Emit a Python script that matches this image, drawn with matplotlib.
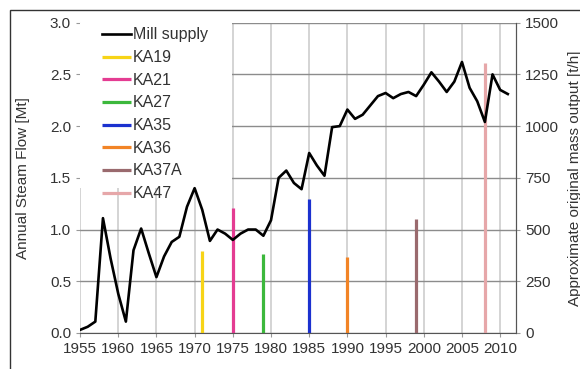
import matplotlib
matplotlib.use("Agg")
import matplotlib.pyplot as plt
from matplotlib.patches import Rectangle
import numpy as np

plt.rcParams['font.family'] = ['Liberation Sans', 'DejaVu Sans']
plt.rcParams['font.size'] = 11

# annual mill supply, Mt
years = list(range(1955, 2012))
mill_supply = [0.03, 0.06, 0.11, 1.11, 0.72, 0.38, 0.11, 0.80, 1.01, 0.77,
               0.54, 0.74, 0.88, 0.93, 1.22, 1.40, 1.19, 0.89, 1.00, 0.96,
               0.90, 0.96, 1.00, 1.00, 0.94, 1.09, 1.50, 1.57, 1.45, 1.39,
               1.74, 1.62, 1.52, 1.99, 2.00, 2.16, 2.07, 2.11, 2.20, 2.29,
               2.32, 2.27, 2.31, 2.33, 2.29, 2.40, 2.52, 2.43, 2.33, 2.43,
               2.62, 2.37, 2.24, 2.04, 2.50, 2.35, 2.31]

# individual units: name, commissioning year, steam flow (Mt)
units = ['KA19', 'KA21', 'KA27', 'KA35', 'KA36', 'KA37A', 'KA47']
unit_years = [1971, 1975, 1979, 1985, 1990, 1999, 2008]
unit_flow = [0.79, 1.21, 0.76, 1.30, 0.73, 1.10, 2.61]
unit_colors = ['#f7d417', '#e43c92', '#3cb83c', '#1b31cf', '#f28426',
               '#9a6a6e', '#e6a7a9']

fig = plt.figure(figsize=(5.8, 3.69), dpi=100)
ax = fig.add_axes([0.138, 0.0976, 0.752, 0.841])

ax.set_axisbelow(True)
ax.grid(axis='x', color='#d4d4d4', linewidth=1.4)
ax.grid(axis='y', color='#8c8c8c', linewidth=1.0)

# white panel behind the legend
ax.add_patch(Rectangle((0, 0.467), 0.349, 0.533, transform=ax.transAxes,
                       facecolor='white', edgecolor='none', zorder=1))

ax.plot(years, mill_supply, color='black', linewidth=1.9, zorder=3,
        label='Mill supply')
for name, yr, flow, c in zip(units, unit_years, unit_flow, unit_colors):
    ax.plot([yr, yr], [0, flow], color=c, linewidth=2.3, zorder=2,
            solid_capstyle='butt', label=name)

ax.set_xlim(1955, 2012.1)
ax.set_ylim(0, 3.0)
ax.set_xticks(range(1955, 2011, 5))
ax.set_yticks(np.arange(0, 3.01, 0.5))
ax.yaxis.set_major_formatter(plt.FormatStrFormatter('%.1f'))
ax.set_ylabel('Annual Steam Flow [Mt]', color='#333333', labelpad=14)

for side in ['top', 'left']:
    ax.spines[side].set_visible(False)
ax.spines['bottom'].set_color('#555555')
ax.spines['right'].set_color('#555555')
ax.tick_params(colors='#999999', labelcolor='#333333', length=3, width=0.8,
               labelsize=11)

ax2 = ax.twinx()
ax2.set_ylim(0, 1500)
ax2.set_yticks(range(0, 1501, 250))
for side in ['top', 'left', 'bottom']:
    ax2.spines[side].set_visible(False)
ax2.spines['right'].set_color('#555555')
ax2.tick_params(colors='#999999', labelcolor='#333333', length=3, width=0.8,
                labelsize=11)
ax2.set_ylabel('Approximate original mass output [t/h]', color='#333333',
               labelpad=6)

leg = ax.legend(loc='upper left', bbox_to_anchor=(0.035, 1.005),
                frameon=False, handlelength=1.85, handletextpad=0.1,
                labelspacing=0.48, fontsize=11.5, borderaxespad=0)
for t in leg.get_texts():
    t.set_color('#333333')
leg.set_zorder(6)

# outer frame around the figure
fig.patches.append(Rectangle((10 / 580, -0.5), 2, 0.5 + 1 - 10 / 369,
                             transform=fig.transFigure, fill=False,
                             edgecolor='#333333', linewidth=1.0))

fig.savefig('out.png', dpi=100)
